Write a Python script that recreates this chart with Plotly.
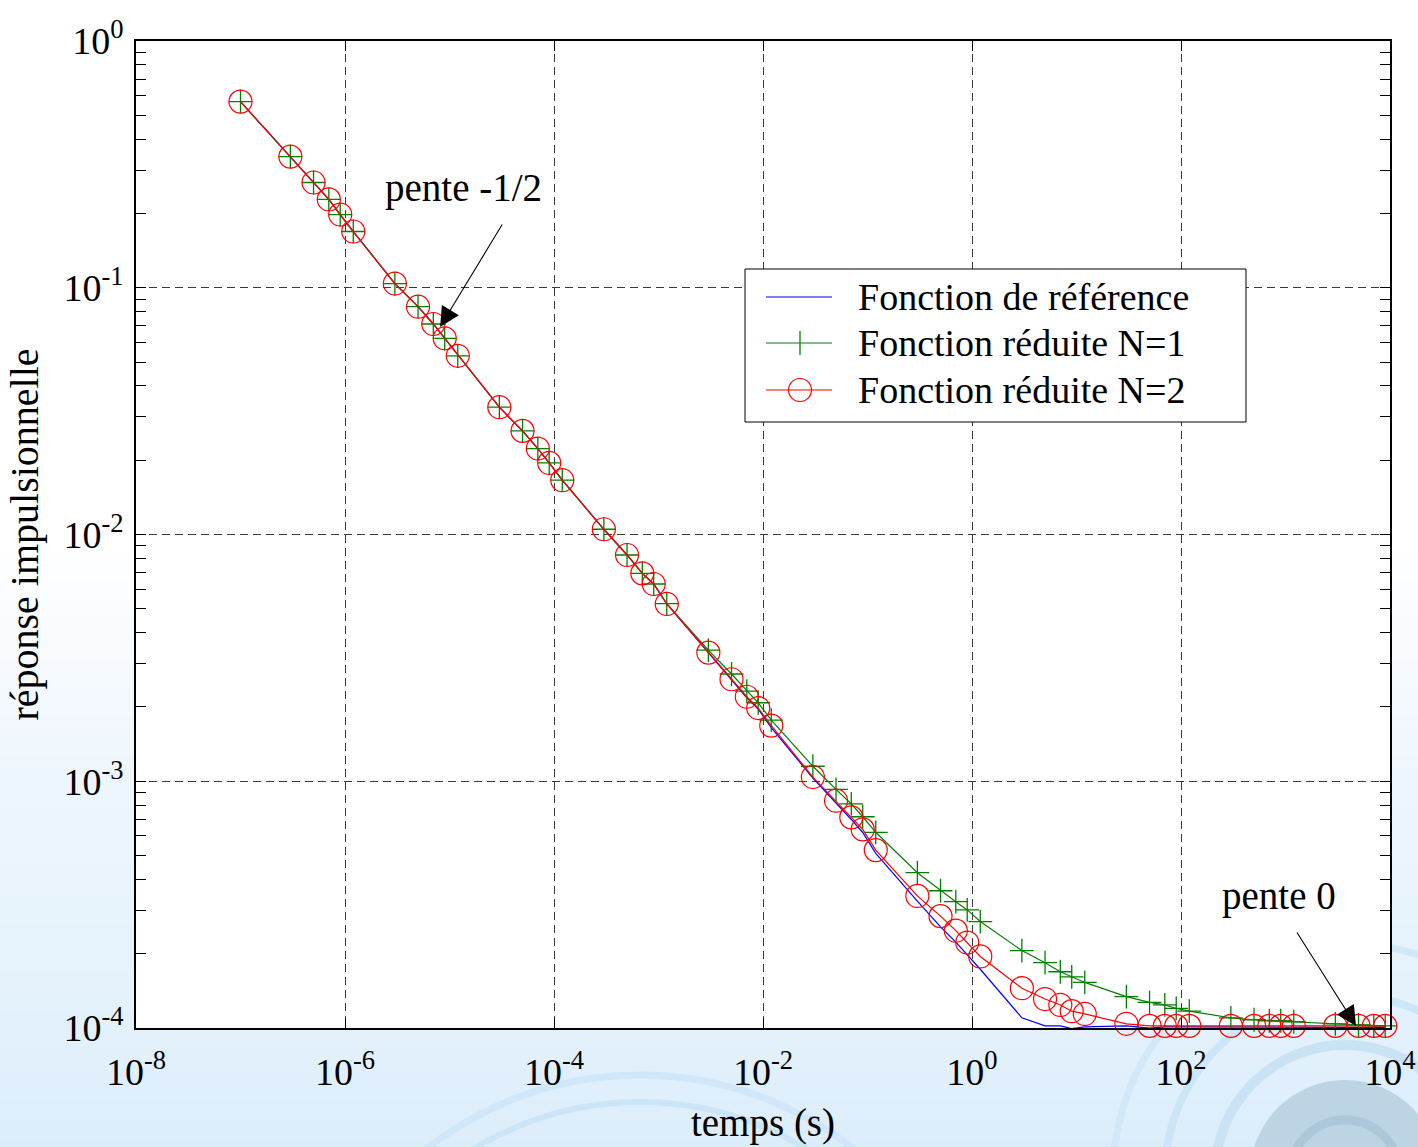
import plotly.graph_objects as go

# Sample times (s) and impulse-response values for each curve
t_s = [1e-7, 3e-7, 5e-7, 7e-7, 9e-7,
       1.2e-6, 3e-6, 5e-6, 7e-6, 9e-6,
       1.2e-5, 3e-5, 5e-5, 7e-5, 9e-5,
       1.2e-4, 3e-4, 5e-4, 7e-4, 9e-4,
       1.2e-3, 3e-3, 5e-3, 7e-3, 9e-3,
       1.2e-2, 3e-2, 5e-2, 7e-2, 9e-2,
       0.12, 0.3, 0.5, 0.7, 0.9,
       1.2, 3, 5, 7, 9,
       12, 30, 50, 70, 90,
       120, 300, 500, 700, 900,
       1200, 3000, 5000, 7000, 9000]

ref_vals = [0.568, 0.340, 0.267, 0.228, 0.198,
            0.169, 0.104, 0.0838, 0.0713, 0.0624,
            0.0530, 0.0328, 0.0263, 0.0223, 0.0195,
            0.0166, 0.0105, 0.00826, 0.00696, 0.00630,
            0.00523, 0.00331, 0.00257, 0.00218, 0.00196,
            0.00165, 0.00103, 0.000820, 0.000700, 0.000620,
            0.000510, 0.000327, 0.000257, 0.000223, 0.000198,
            0.000173, 0.000110, 0.000102, 0.000102, 0.0000995,
            0.000101, 0.000102, 0.0000998, 0.000101, 0.000101,
            0.000101, 0.0001005, 0.0001005, 0.0001005, 0.0001005,
            0.0001005, 0.0001005, 0.0001005, 0.0001005, 0.0001005]

n1_vals = [0.568, 0.340, 0.267, 0.228, 0.198,
           0.169, 0.104, 0.0838, 0.0713, 0.0624,
           0.0530, 0.0328, 0.0263, 0.0223, 0.0195,
           0.0166, 0.0105, 0.00826, 0.00696, 0.00630,
           0.00525, 0.00340, 0.00272, 0.00232, 0.00208,
           0.00177, 0.00115, 0.000927, 0.000809, 0.000718,
           0.000621, 0.000426, 0.000360, 0.000325, 0.000301,
           0.000270, 0.000206, 0.000184, 0.000169, 0.000161,
           0.000153, 0.000134, 0.000127, 0.000124, 0.000120,
           0.000117, 0.000110, 0.000108, 0.000107, 0.000107,
           0.000106, 0.000104, 0.000103, 0.000102, 0.000102]

n2_vals = [0.568, 0.340, 0.267, 0.228, 0.198,
           0.169, 0.104, 0.0838, 0.0713, 0.0624,
           0.0530, 0.0328, 0.0263, 0.0223, 0.0195,
           0.0166, 0.0105, 0.00826, 0.00696, 0.00630,
           0.00523, 0.00332, 0.00259, 0.00220, 0.00198,
           0.00168, 0.00104, 0.000834, 0.000714, 0.000638,
           0.000526, 0.000343, 0.000284, 0.000248, 0.000222,
           0.000195, 0.000145, 0.000131, 0.000124, 0.000117,
           0.000114, 0.000104, 0.000102, 0.000102, 0.000102,
           0.000102, 0.000102, 0.000102, 0.000102, 0.000102,
           0.000102, 0.000102, 0.000102, 0.000102, 0.000102]

series_names = ["Fonction de référence", "Fonction réduite N=1", "Fonction réduite N=2"]
series_colors = ["#0000ff", "#008000", "#ff0000"]

x_tick_exp = [-8, -6, -4, -2, 0, 2, 4]
y_tick_exp = [-4, -3, -2, -1, 0]

FONT = "Liberation Serif"
W, H = 1418, 1147
ML, MR, MT, MB = 136, 28, 41, 119
PW, PH = W - ML - MR, H - MT - MB


def px(xp):
    return (xp - ML) / PW


def py(yp):
    return (H - MB - yp) / PH


fig = go.Figure()
fig.add_trace(go.Scatter(
    x=t_s, y=ref_vals, mode="lines", name=series_names[0],
    line=dict(color=series_colors[0], width=1.2)))
fig.add_trace(go.Scatter(
    x=t_s, y=n1_vals, mode="lines+markers", name=series_names[1],
    line=dict(color=series_colors[1], width=1.2),
    marker=dict(symbol="cross-thin-open", size=17, color=series_colors[1],
                line=dict(width=1.3, color=series_colors[1])),
    cliponaxis=False))
fig.add_trace(go.Scatter(
    x=t_s, y=n2_vals, mode="lines+markers", name=series_names[2],
    line=dict(color=series_colors[2], width=1.2),
    marker=dict(symbol="circle-open", size=23, color=series_colors[2],
                line=dict(width=1.2, color=series_colors[2])),
    cliponaxis=False))

shapes = []

# soft blue page background, fading in toward the bottom
stops = [(0, (255, 255, 255)), (540, (255, 255, 255)), (780, (238, 246, 253)),
         (1000, (228, 242, 252)), (1147, (220, 237, 250))]
nb = 90
y_top = 540
for i in range(nb):
    y0 = y_top + i * (H - y_top) / nb
    y1 = y_top + (i + 1) * (H - y_top) / nb + 1
    ym = 0.5 * (y0 + y1)
    for (a, ca), (b, cb) in zip(stops[:-1], stops[1:]):
        if a <= ym <= b:
            f = (ym - a) / (b - a)
            c = tuple(int(round(ca[k] + f * (cb[k] - ca[k]))) for k in range(3))
            break
    shapes.append(dict(type="rect", xref="paper", yref="paper", layer="below",
                       x0=px(0), x1=px(W), y0=py(y1), y1=py(y0),
                       fillcolor="rgb(%d,%d,%d)" % c, line=dict(width=0)))


def ring(cx, cy, r, color, width=0, fill=None):
    d = dict(type="circle", xref="paper", yref="paper", layer="below",
             x0=px(cx - r), x1=px(cx + r), y0=py(cy + r), y1=py(cy - r))
    if fill:
        d["fillcolor"] = fill
        d["line"] = dict(width=0)
    else:
        d["line"] = dict(color=color, width=width)
    return d


# water ripples
shapes.append(ring(1345, 1175, 95, None, fill="#bcd4e4"))
shapes.append(ring(1345, 1175, 55, "#abc7d9", 9))
shapes.append(ring(1345, 1175, 130, "#c9e3f5", 10))
shapes.append(ring(1345, 1175, 180, "#cde6f7", 8))
shapes.append(ring(1345, 1175, 232, "#d0e8f8", 7))
shapes.append(ring(640, 1420, 345, "#cfe7f8", 7))
shapes.append(ring(640, 1420, 318, "#cbe5f7", 6))

# white plotting area
shapes.append(dict(type="rect", xref="paper", yref="paper", layer="below",
                   x0=0, x1=1, y0=0, y1=1, fillcolor="white", line=dict(width=0)))

# legend box
LX0, LX1, LY0, LY1 = 745, 1246, 269, 422
rows = [297, 343, 390]
shapes.append(dict(type="rect", xref="paper", yref="paper", layer="above",
                   x0=px(LX0), x1=px(LX1), y0=py(LY1), y1=py(LY0),
                   fillcolor="white", line=dict(color="black", width=1)))
for yr, col in zip(rows, series_colors):
    shapes.append(dict(type="line", xref="paper", yref="paper", layer="above",
                       x0=px(766), x1=px(832), y0=py(yr), y1=py(yr),
                       line=dict(color=col, width=1.2)))
shapes.append(dict(type="line", xref="paper", yref="paper", layer="above",
                   x0=px(800), x1=px(800), y0=py(rows[1] + 12), y1=py(rows[1] - 12),
                   line=dict(color=series_colors[1], width=1.3)))
shapes.append(dict(type="circle", xref="paper", yref="paper", layer="above",
                   x0=px(800 - 11.5), x1=px(800 + 11.5), y0=py(rows[2] + 11.5), y1=py(rows[2] - 11.5),
                   line=dict(color=series_colors[2], width=1.2)))

annotations = []
for yr, name in zip(rows, series_names):
    annotations.append(dict(xref="paper", yref="paper", x=px(856), y=py(yr),
                            xanchor="left", yanchor="middle", showarrow=False,
                            text=name, font=dict(family=FONT, size=38, color="black")))

# slope annotations
annotations.append(dict(xref="paper", yref="paper", x=px(383), y=py(188),
                        xanchor="left", yanchor="middle", showarrow=False,
                        text="pente -1/2", font=dict(family=FONT, size=39, color="black")))
annotations.append(dict(xref="x", yref="y", x=-5.09, y=-1.159, text="",
                        showarrow=True, arrowhead=2, arrowsize=3.6, arrowwidth=1.1,
                        arrowcolor="black", ax=63, ay=-104, standoff=0))
annotations.append(dict(xref="paper", yref="paper", x=px(1220), y=py(896),
                        xanchor="left", yanchor="middle", showarrow=False,
                        text="pente 0", font=dict(family=FONT, size=39, color="black")))
annotations.append(dict(xref="x", yref="y", x=3.675, y=-3.992, text="",
                        showarrow=True, arrowhead=2, arrowsize=3.6, arrowwidth=1.1,
                        arrowcolor="black", ax=-60, ay=-95, standoff=0))

y_minor = [m * 10.0 ** e for e in range(-4, 0) for m in range(2, 10)]

axis_common = dict(
    type="log", tickmode="array", ticks="inside", ticklen=10, tickwidth=1,
    tickcolor="black", showline=True, linecolor="black", linewidth=1.5,
    mirror="ticks", showgrid=True, gridcolor="#3a3a3a", gridwidth=1,
    griddash="8px,5px", zeroline=False,
    tickfont=dict(family=FONT, size=38, color="black"),
)

fig.update_layout(
    width=W, height=H,
    margin=dict(l=ML, r=MR, t=MT, b=MB, autoexpand=False),
    paper_bgcolor="white", plot_bgcolor="white", showlegend=False,
    font=dict(family=FONT, size=38, color="black"),
    xaxis=dict(axis_common, range=[-8, 4],
               tickvals=[10.0 ** e for e in x_tick_exp],
               ticktext=["10<sup>%d</sup>" % e for e in x_tick_exp],
               ticklabelstandoff=10,
               title=dict(text="temps (s)", standoff=16,
                          font=dict(family=FONT, size=39, color="black"))),
    yaxis=dict(axis_common, range=[-4, 0],
               tickvals=[10.0 ** e for e in y_tick_exp],
               ticktext=["10<sup>%d</sup>" % e for e in y_tick_exp],
               ticklabelstandoff=3,
               minor=dict(tickmode="array", tickvals=y_minor, ticks="inside",
                          ticklen=10, tickcolor="black", tickwidth=1, showgrid=False),
               title=dict(text="réponse impulsionnelle", standoff=12,
                          font=dict(family=FONT, size=40, color="black"))),
    shapes=shapes,
    annotations=annotations,
)

fig.write_html("out.html")
